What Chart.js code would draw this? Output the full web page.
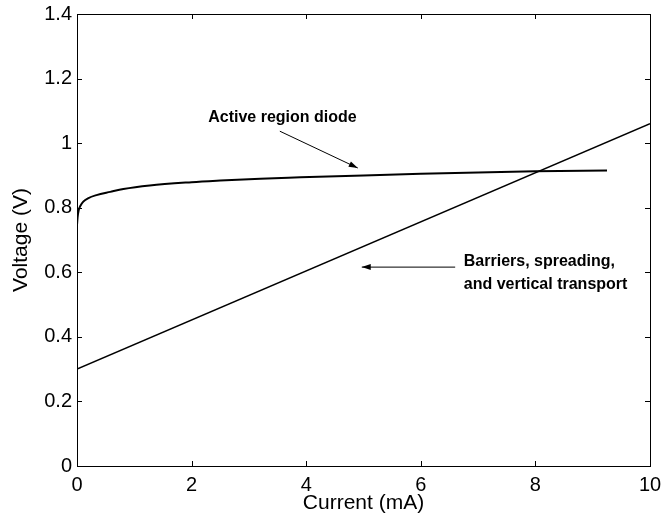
<!DOCTYPE html>
<html>
<head>
<meta charset="utf-8">
<script src="https://cdn.jsdelivr.net/npm/chart.js@4.4.1/dist/chart.umd.min.js"></script>
<style>
  html, body { margin: 0; padding: 0; background: #fff; }
  #wrap { width: 662px; height: 522px; }
</style>
</head>
<body>
<div id="wrap"><canvas id="ivChart" width="662" height="522"></canvas></div>
<script>
// Active region diode curve
const diodeCurrent = [0, 0.01, 0.03, 0.06, 0.11, 0.2, 0.34, 0.58, 0.81, 1.27, 2, 2.5, 3.2, 3.9, 5, 6, 7.4, 8, 9.25];
const diodeVoltage = [0.746, 0.77, 0.793, 0.806, 0.819, 0.83, 0.839, 0.849, 0.858, 0.869, 0.879, 0.884, 0.89, 0.894, 0.9, 0.905, 0.911, 0.913, 0.915];

// Barriers, spreading and vertical transport (linear)
const lineCurrent = [0, 10];
const lineVoltage = [0.30, 1.06];

const xTicks = [0, 2, 4, 6, 8, 10];
const yTicks = [0, 0.2, 0.4, 0.6, 0.8, 1, 1.2, 1.4];

const FONT = '"Liberation Sans", Arial, Helvetica, sans-serif';

function toPoints(xs, ys) {
    return xs.map((x, i) => ({ x: x, y: ys[i] }));
}

// MATLAB-style box with inward ticks on all four sides, plus text annotations
const boxPlugin = {
    id: 'boxPlugin',
    afterDraw(chart) {
        const ctx = chart.ctx;
        const a = chart.chartArea;
        const xs = chart.scales.x;
        const ys = chart.scales.y;
        const len = 5;

        ctx.save();
        ctx.strokeStyle = '#000';
        ctx.lineWidth = 1;
        ctx.strokeRect(Math.round(a.left) + 0.5, Math.round(a.top) + 0.5,
            Math.round(a.right - a.left), Math.round(a.bottom - a.top));

        ctx.beginPath();
        xTicks.forEach(v => {
            const px = Math.round(xs.getPixelForValue(v)) + 0.5;
            ctx.moveTo(px, a.bottom); ctx.lineTo(px, a.bottom - len);
            ctx.moveTo(px, a.top); ctx.lineTo(px, a.top + len);
        });
        yTicks.forEach(v => {
            const py = Math.round(ys.getPixelForValue(v)) + 0.5;
            ctx.moveTo(a.left, py); ctx.lineTo(a.left + len, py);
            ctx.moveTo(a.right, py); ctx.lineTo(a.right - len, py);
        });
        ctx.stroke();

        // annotations
        ctx.fillStyle = '#000';
        ctx.font = 'bold 16px ' + FONT;
        ctx.textBaseline = 'middle';
        ctx.textAlign = 'left';
        ctx.fillText('Active region diode', xs.getPixelForValue(2.29), ys.getPixelForValue(1.078));
        ctx.fillText('Barriers, spreading,', xs.getPixelForValue(6.75), ys.getPixelForValue(0.632));
        ctx.fillText('and vertical transport', xs.getPixelForValue(6.75), ys.getPixelForValue(0.561));

        drawArrow(ctx, xs.getPixelForValue(3.54), ys.getPixelForValue(1.037),
            xs.getPixelForValue(4.9), ys.getPixelForValue(0.923));
        drawArrow(ctx, xs.getPixelForValue(6.6), ys.getPixelForValue(0.616),
            xs.getPixelForValue(4.97), ys.getPixelForValue(0.616));
        ctx.restore();
    }
};

function drawArrow(ctx, x1, y1, x2, y2) {
    const ang = Math.atan2(y2 - y1, x2 - x1);
    const hl = 9, hw = 3;
    ctx.beginPath();
    ctx.moveTo(x1, y1);
    ctx.lineTo(x2, y2);
    ctx.stroke();
    ctx.beginPath();
    ctx.moveTo(x2, y2);
    ctx.lineTo(x2 - hl * Math.cos(ang) + hw * Math.sin(ang), y2 - hl * Math.sin(ang) - hw * Math.cos(ang));
    ctx.lineTo(x2 - hl * Math.cos(ang) - hw * Math.sin(ang), y2 - hl * Math.sin(ang) + hw * Math.cos(ang));
    ctx.closePath();
    ctx.fill();
}

const ctx = document.getElementById('ivChart').getContext('2d');
new Chart(ctx, {
    type: 'line',
    data: {
        datasets: [
            {
                label: 'Active region diode',
                data: toPoints(diodeCurrent, diodeVoltage),
                borderColor: '#000',
                borderWidth: 2,
                pointRadius: 0,
                cubicInterpolationMode: 'monotone',
                fill: false
            },
            {
                label: 'Barriers, spreading, and vertical transport',
                data: toPoints(lineCurrent, lineVoltage),
                borderColor: '#000',
                borderWidth: 1.5,
                pointRadius: 0,
                fill: false
            }
        ]
    },
    options: {
        responsive: false,
        animation: false,
        layout: { padding: { left: 0, right: 12, top: 14, bottom: 0 } },
        plugins: {
            legend: { display: false },
            tooltip: { enabled: false }
        },
        scales: {
            x: {
                type: 'linear',
                min: 0,
                max: 10,
                afterBuildTicks: s => { s.ticks = xTicks.map(v => ({ value: v })); },
                afterFit: s => { s.height = 56; s.paddingLeft = 0; s.paddingRight = 0; },
                grid: { display: false, drawTicks: false },
                border: { display: false },
                ticks: {
                    color: '#000',
                    padding: 7,
                    maxRotation: 0,
                    font: { family: FONT, size: 20 },
                    callback: v => String(v)
                },
                title: {
                    display: true,
                    text: 'Current (mA)',
                    color: '#000',
                    padding: { top: 0, bottom: 6 },
                    font: { family: FONT, size: 21 }
                }
            },
            y: {
                type: 'linear',
                min: 0,
                max: 1.4,
                afterBuildTicks: s => { s.ticks = yTicks.map(v => ({ value: v })); },
                afterFit: s => { s.width = 77; s.paddingTop = 0; s.paddingBottom = 0; },
                grid: { display: false, drawTicks: false },
                border: { display: false },
                ticks: {
                    color: '#000',
                    padding: 5,
                    font: { family: FONT, size: 20 },
                    callback: v => String(Math.round(v * 10) / 10)
                },
                title: {
                    display: true,
                    text: 'Voltage (V)',
                    color: '#000',
                    padding: { top: 9, bottom: 0 },
                    font: { family: FONT, size: 21 }
                }
            }
        }
    },
    plugins: [boxPlugin]
});
</script>
</body>
</html>
